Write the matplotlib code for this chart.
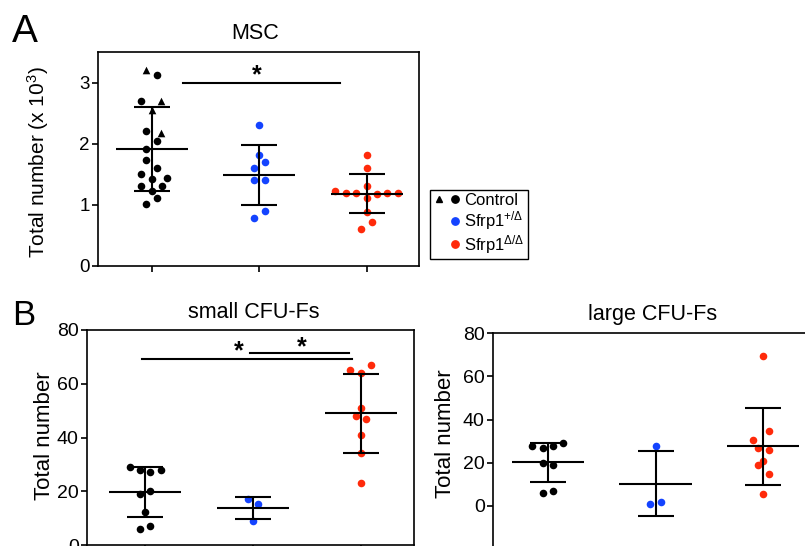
import matplotlib
matplotlib.use('Agg')
import matplotlib.pyplot as plt
from matplotlib.lines import Line2D
from matplotlib.legend_handler import HandlerTuple

plt.rcParams['font.family'] = ['Liberation Sans', 'DejaVu Sans']
plt.rcParams['mathtext.fontset'] = 'custom'
plt.rcParams['mathtext.rm'] = 'Liberation Sans'
plt.rcParams['mathtext.it'] = 'Liberation Sans:italic'
plt.rcParams['mathtext.bf'] = 'Liberation Sans:bold'

# ---------------- data ----------------
groups = ['Control', 'Sfrp1$^{+/\\Delta}$', 'Sfrp1$^{\\Delta/\\Delta}$']
colors = ['#000000', '#1443ff', '#ff2a0a']

# Panel A: MSC (x10^3)
msc_ctrl_tri = [3.21, 2.70, 2.55, 2.18]
msc_ctrl_tri_jit = [-0.05, 0.09, 0.0, 0.09]
msc_ctrl = [3.13, 2.70, 2.21, 2.05, 1.91, 1.74, 1.61, 1.50, 1.42, 1.44, 1.31, 1.31, 1.22, 1.11, 1.01]
msc_ctrl_jit = [0.05, -0.10, -0.05, 0.05, -0.05, -0.05, 0.05, -0.10, 0.0, 0.14, -0.10, 0.10, 0.0, 0.05, -0.05]
msc_het = [2.30, 1.81, 1.70, 1.61, 1.41, 1.41, 0.90, 0.79]
msc_het_jit = [0.0, 0.0, 0.05, -0.05, -0.05, 0.05, 0.05, -0.05]
msc_ko = [1.81, 1.61, 1.31, 1.23, 1.20, 1.20, 1.11, 1.18, 1.20, 1.20, 0.89, 0.72, 0.60]
msc_ko_jit = [0.0, 0.0, 0.0, -0.29, -0.19, -0.10, 0.0, 0.10, 0.19, 0.29, 0.0, 0.05, -0.05]
msc_mean = [1.91, 1.49, 1.18]
msc_sd = [0.69, 0.49, 0.32]
msc_sig = [(0.29, 1.75, 2.99, 0.98, 3.12)]  # x1, x2, y, star x, star y

# Panel B: small CFU-Fs
small_ctrl = [29.1, 28.0, 27.0, 28.0, 19.1, 20.1, 12.3, 6.1, 7.1]
small_ctrl_jit = [-0.14, -0.05, 0.05, 0.15, -0.05, 0.05, 0.0, -0.05, 0.05]
small_het = [17.1, 15.1, 9.0]
small_het_jit = [-0.05, 0.05, 0.0]
small_ko = [65.0, 67.0, 64.0, 51.0, 47.9, 47.0, 40.9, 34.1, 23.1]
small_ko_jit = [-0.10, 0.09, 0.0, 0.0, -0.05, 0.05, 0.0, 0.0, 0.0]
small_mean = [19.6, 13.8, 49.0]
small_sd = [9.3, 4.2, 14.8]
small_sig = [(-0.03, 1.92, 69.3, 0.87, 72.0), (0.97, 1.89, 71.6, 1.45, 73.6)]

# Panel B: large CFU-Fs
large_ctrl = [27.9, 27.0, 27.9, 29.0, 20.0, 19.0, 6.0, 6.9]
large_ctrl_jit = [-0.15, -0.05, 0.05, 0.14, -0.05, 0.05, -0.05, 0.05]
large_het = [27.9, 0.9, 2.0]
large_het_jit = [0.0, -0.05, 0.05]
large_ko = [69.5, 34.7, 30.7, 26.7, 25.7, 20.8, 18.8, 14.8, 5.7]
large_ko_jit = [0.0, 0.05, -0.09, -0.05, 0.05, 0.0, -0.05, 0.05, 0.0]
large_mean = [20.2, 10.4, 27.6]
large_sd = [9.0, 15.2, 17.9]

# ---------------- drawing helpers ----------------
W, H = 805, 546
fig = plt.figure(figsize=(W / 100, H / 100), dpi=100)


def px_axes(left, top, right, bottom):
    return fig.add_axes([left / W, 1 - bottom / H, (right - left) / W, (bottom - top) / H])


def dots(ax, xpos, vals, jit, color, marker='o', s=30):
    ax.scatter([xpos + j for j in jit], vals, s=s, color=color, marker=marker,
               linewidths=0, zorder=2, clip_on=False)


def stats(ax, means, sds):
    xs = list(range(len(means)))
    for x, m in zip(xs, means):
        ax.hlines(m, x - 0.335, x + 0.335, color='black', lw=1.5, zorder=3)
    ax.errorbar(xs, means, yerr=sds, fmt='none', ecolor='black', elinewidth=1.5,
                capsize=13, capthick=1.5, zorder=3)


def sig(ax, items):
    for x1, x2, y, sx, sy in items:
        ax.plot([x1, x2], [y, y], color='black', lw=1.5, zorder=3)
        ax.text(sx, sy, '*', ha='center', va='center', fontsize=18, fontweight='bold')


def style(ax, yticks, tick_fs):
    for sp in ax.spines.values():
        sp.set_linewidth(1.2)
    ax.set_xticks([0, 1, 2])
    ax.set_xticklabels([])
    ax.set_yticks(yticks)
    ax.tick_params(axis='both', direction='out', length=4, width=1.2, labelsize=tick_fs, pad=2)


# ---------------- Panel A ----------------
axA = px_axes(98, 52, 419, 266)
dots(axA, 0, msc_ctrl_tri, msc_ctrl_tri_jit, colors[0], marker='^', s=30)
dots(axA, 0, msc_ctrl, msc_ctrl_jit, colors[0])
dots(axA, 1, msc_het, msc_het_jit, colors[1])
dots(axA, 2, msc_ko, msc_ko_jit, colors[2])
stats(axA, msc_mean, msc_sd)
sig(axA, msc_sig)
axA.set_xlim(-0.5, 2.487)
axA.set_ylim(0, 3.5)
style(axA, [0, 1, 2, 3], 13.5)
axA.set_ylabel('Total number (x 10$\\mathregular{^3}$)', fontsize=15)
axA.yaxis.set_label_coords(-0.145, 0.484)
axA.text(0.489, 1.059, 'MSC', transform=axA.transAxes, ha='center', va='baseline', fontsize=15.5)

# ---------------- Panel B small ----------------
axB1 = px_axes(87, 330, 414, 545)
dots(axB1, 0, small_ctrl, small_ctrl_jit, colors[0])
dots(axB1, 1, small_het, small_het_jit, colors[1])
dots(axB1, 2, small_ko, small_ko_jit, colors[2])
stats(axB1, small_mean, small_sd)
sig(axB1, small_sig)
axB1.set_xlim(-0.537, 2.49)
axB1.set_ylim(0, 80)
style(axB1, [0, 20, 40, 60, 80], 14)
axB1.set_ylabel('Total number', fontsize=16)
axB1.yaxis.set_label_coords(-0.098, 0.507)
axB1.text(0.511, 1.054, 'small CFU-Fs', transform=axB1.transAxes, ha='center', va='baseline', fontsize=15.5)

# ---------------- Panel B large ----------------
axB2 = px_axes(493, 333, 817, 549.25)
dots(axB2, 0, large_ctrl, large_ctrl_jit, colors[0])
dots(axB2, 1, large_het, large_het_jit, colors[1])
dots(axB2, 2, large_ko, large_ko_jit, colors[2])
stats(axB2, large_mean, large_sd)
axB2.set_xlim(-0.51, 2.5)
axB2.set_ylim(-20, 80)
style(axB2, [0, 20, 40, 60, 80], 14)
axB2.set_ylabel('Total number', fontsize=16)
axB2.yaxis.set_label_coords(-0.115, 0.533)
axB2.text(0.491, 1.060, 'large CFU-Fs', transform=axB2.transAxes, ha='center', va='baseline', fontsize=15.5)

# ---------------- panel letters ----------------
fig.text(12 / W, 1 - 41.7 / H, 'A', fontsize=28, ha='left', va='baseline')
fig.text(12 / W, 1 - 325 / H, 'B', fontsize=25, ha='left', va='baseline')

# ---------------- legend ----------------
tri = Line2D([], [], marker='^', color=colors[0], ls='none', markersize=4.8)
circ = Line2D([], [], marker='o', color=colors[0], ls='none', markersize=5.3)
blank = Line2D([], [], ls='none', marker=None)
bl = Line2D([], [], marker='o', color=colors[1], ls='none', markersize=5.3)
rd = Line2D([], [], marker='o', color=colors[2], ls='none', markersize=5.3)
leg = fig.legend([(tri, circ), (blank, bl), (blank, rd)], groups,
                 handler_map={tuple: HandlerTuple(ndivide=None, pad=0.3)},
                 loc='upper left', bbox_to_anchor=(430 / W, 1 - 190 / H),
                 bbox_transform=fig.transFigure, borderaxespad=0,
                 frameon=True, fancybox=False, edgecolor='black', framealpha=1,
                 fontsize=12, handlelength=1.6, handletextpad=0.25,
                 borderpad=0.2, labelspacing=0.05)
leg.get_frame().set_linewidth(1.0)

fig.savefig('out.png', dpi=100)
